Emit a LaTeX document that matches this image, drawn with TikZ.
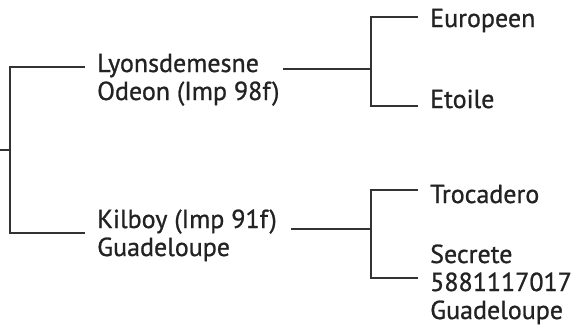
\documentclass[tikz,border=0pt]{standalone}
\usepackage{fontspec}
\setmainfont{PT Sans}[FakeBold=0.9]
\definecolor{ink}{HTML}{222222}
\definecolor{wire}{HTML}{333333}
\newcommand{\lines}[1]{\begin{tabular}[t]{@{}l@{}}#1\end{tabular}}
\begin{document}
\begin{tikzpicture}[x=1pt,y=-1pt,
  lbl/.style={anchor=base west,inner sep=0pt,text=ink,
    font=\fontsize{26}{28}\selectfont},
  thickwire/.style={draw=wire,line width=2.2pt},
  thinwire/.style={draw=wire,line width=1.3pt}]
\useasboundingbox (0,0) rectangle (585,330);
% first generation
\coordinate (root) at (0,150);
\coordinate (rb) at (10,150);
\coordinate (rt) at (10,67);
\coordinate (rd) at (10,233);
\coordinate (st) at (85,67);
\coordinate (dt) at (85,233);
\draw[thickwire] (root) -- (rb);
\draw[thickwire] (st) -- (rt) -- (rd) -- (dt);
\node[lbl] (sire) at (97,72) {\lines{Lyonsdemesne\\Odeon (Imp 98f)}};
\node[lbl] (dam) at (97,228) {\lines{Kilboy (Imp 91f)\\Guadeloupe}};
% second generation, sire side
\coordinate (s0) at (283,69);
\coordinate (s1) at (371,69);
\coordinate (s1t) at (371,17);
\coordinate (s1b) at (371,106);
\coordinate (ss) at (418,17);
\coordinate (sd) at (418,106);
\draw[thinwire] (s0) -- (s1);
\draw[thinwire] (ss) -- (s1t) -- (s1b) -- (sd);
\node[lbl] (sss) at (430,27) {Europeen};
\node[lbl] (ssd) at (430,108) {Etoile};
% second generation, dam side
\coordinate (d0) at (291,229);
\coordinate (d1) at (371,229);
\coordinate (d1t) at (371,190);
\coordinate (d1b) at (371,278);
\coordinate (ds) at (418,190);
\coordinate (dd) at (418,278);
\draw[thinwire] (d0) -- (d1);
\draw[thinwire] (ds) -- (d1t) -- (d1b) -- (dd);
\node[lbl] (dss) at (430,203) {Trocadero};
\node[lbl] (dsd) at (430,263) {\lines{Secrete\\5881117017\\Guadeloupe}};
\end{tikzpicture}
\end{document}
